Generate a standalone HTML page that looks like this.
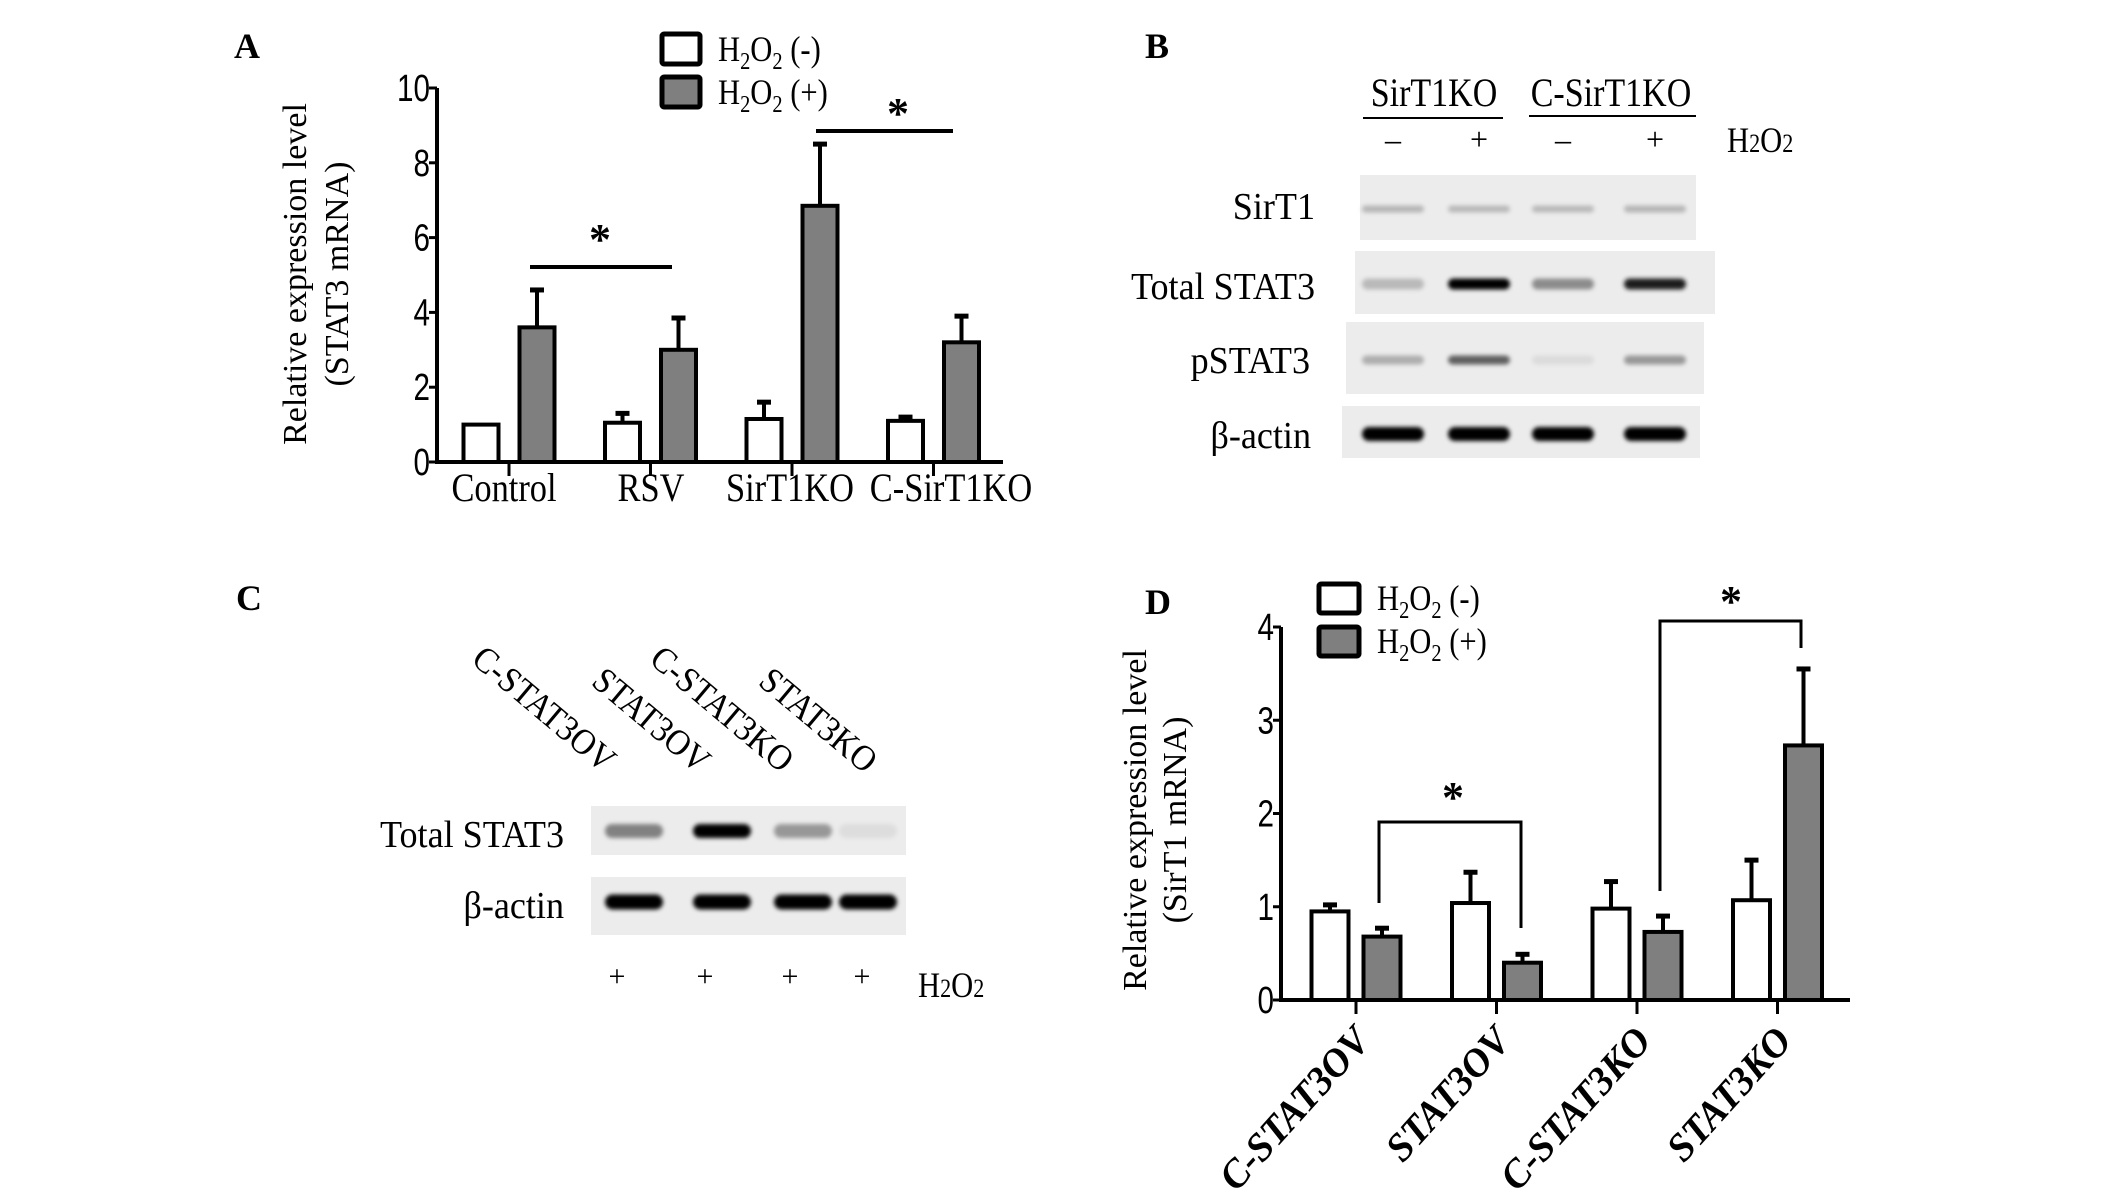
<!DOCTYPE html>
<html><head><meta charset="utf-8"><style>
html,body{margin:0;padding:0;background:#fff;}
svg{display:block;font-family:"Liberation Serif",serif;}
</style></head><body>
<svg id="fig" width="2126" height="1194" viewBox="0 0 2126 1194">
<defs>
<filter id="blur" x="-20%" y="-100%" width="140%" height="300%"><feGaussianBlur stdDeviation="2.2"/></filter>
</defs>
<g id="pa"></g>
<g id="pb"></g>
<g id="pc"></g>
<g id="pd"></g>
</svg>
<script>
// Panel A data
const aCats = ["Control","RSV","SirT1KO","C-SirT1KO"];
const aNeg = [1.0,1.05,1.15,1.1];
const aNegErr = [0.0,0.25,0.45,0.1];
const aPos = [3.6,3.0,6.85,3.2];
const aPosErr = [1.0,0.85,1.65,0.7];
const aTicks = [0,2,4,6,8,10];
// Panel D data
const dCats = ["C-STAT3OV","STAT3OV","C-STAT3KO","STAT3KO"];
const dNeg = [0.95,1.04,0.98,1.07];
const dNegErr = [0.07,0.33,0.29,0.43];
const dPos = [0.68,0.4,0.73,2.73];
const dPosErr = [0.09,0.09,0.17,0.82];
const dTicks = [0,1,2,3,4];
// Blot intensities (0..1)
const bLanes = ["SirT1KO -","SirT1KO +","C-SirT1KO -","C-SirT1KO +"];
const bSirT1 = [0.22,0.2,0.2,0.22];
const bStat3 = [0.2,1.0,0.4,0.9];
const bPStat3 = [0.25,0.6,0.05,0.35];
const bActin = [1,1,1,1];
const cStat3 = [0.45,1.0,0.35,0.04];
const cActin = [1,1,1,1];

const NS="http://www.w3.org/2000/svg";
function el(p,tag,at,txt){const e=document.createElementNS(NS,tag);for(const k in at)e.setAttribute(k,at[k]);if(txt!==undefined)e.textContent=txt;p.appendChild(e);return e;}

function barChart(g,o){
  const y=v=>o.y0-(v/o.max)*(o.y0-o.yTop);
  let e;
  e=el(g,'line',{x1:o.ax,y1:o.yTop,x2:o.ax,y2:o.y0+2,stroke:'#000','stroke-width':4});
  
  e=el(g,'line',{x1:o.ax-2,y1:o.y0,x2:o.axEnd,y2:o.y0,stroke:'#000','stroke-width':4});
  
  o.ticks.forEach(t=>{
    el(g,'line',{x1:o.ax-8,y1:y(t),x2:o.ax,y2:y(t),stroke:'#000','stroke-width':3});
    e=el(g,'text',{x:0,y:0,'text-anchor':'end','font-size':o.tickFs,'font-family':'Liberation Sans, sans-serif',transform:`translate(${o.ax-7},${y(t)+13}) scale(0.78,1)`},t);
    
  });
  o.cats.forEach((c,i)=>{
    const cx=o.cx0+i*o.step;
    el(g,'line',{x1:cx,y1:o.y0,x2:cx,y2:o.y0+14,stroke:'#000','stroke-width':3});
    [[o.neg,o.negErr,'#fff',cx-o.off-o.bw/2,'bar-neg'],[o.pos,o.posErr,'#7f7f7f',cx+o.off-o.bw/2,'bar-pos']].forEach(([vals,errs,fill,x,nm])=>{
      const v=vals[i],top=y(v),et=y(v+errs[i]);
      if(errs[i]>0){
        el(g,'line',{x1:x+o.bw/2,y1:top,x2:x+o.bw/2,y2:et,stroke:'#000','stroke-width':4});
        el(g,'line',{x1:x+o.bw/2-7,y1:et,x2:x+o.bw/2+7,y2:et,stroke:'#000','stroke-width':5});
      }
      const r=el(g,'rect',{x:x,y:top,width:o.bw,height:o.y0-top,fill:fill,stroke:'#000','stroke-width':4});
      
      
    });
  });
  return y;
}
function legend(g,x,y1,y2,w,h){
  let e=el(g,'rect',{x:x,y:y1,width:w,height:h,fill:'#fff',stroke:'#000','stroke-width':5,rx:2});
  
  e=el(g,'rect',{x:x,y:y2,width:w,height:h,fill:'#7f7f7f',stroke:'#000','stroke-width':5,rx:2});
  
  [[y1,'(-)'],[y2,'(+)']].forEach(([yy,s],k)=>{
    const t=el(g,'text',{x:0,y:0,'font-size':36,transform:`translate(${x+w+18},${yy+h-3}) scale(0.85,1)`});
    t.innerHTML=`H<tspan font-size="24" dy="8">2</tspan><tspan dy="-8">O</tspan><tspan font-size="24" dy="8">2</tspan><tspan dy="-8"> ${s}</tspan>`;
    
  });
}
function star(g,x,y){let e=el(g,'text',{x:x,y:y,'text-anchor':'middle','font-size':44,'font-weight':'bold'},'*');}
function label(g,x,y,txt,fs,name,extra){const a=Object.assign({x:x,y:y,'font-size':fs},extra||{});const e=el(g,'text',a,txt);return e;}
function clabel(g,x,y,txt,fs,name,anchor,sx,extra){const a=Object.assign({x:0,y:0,'font-size':fs,'text-anchor':anchor,transform:`translate(${x},${y}) scale(${sx},1)`},extra||{});const e=el(g,'text',a,txt);return e;}

// ---------- Panel A ----------
const A=document.getElementById('pa');
label(A,234,58,'A',36,'panel-label-a',{'font-weight':'bold'});
legend(A,662,34,77,38,30);
const yA=barChart(A,{cats:aCats,neg:aNeg,negErr:aNegErr,pos:aPos,posErr:aPosErr,ticks:aTicks,max:10,ax:437,axEnd:1003,y0:462,yTop:88,cx0:509,step:141.5,off:28,bw:35,tickFs:38});
const aLabX=[504,651,790,951];
aCats.forEach((c,i)=>{clabel(A,aLabX[i],501,c,40,'x-tick-label','middle',0.86);});
label(A,0,0,'Relative expression level',34,'y-axis-title',{'text-anchor':'middle',transform:'translate(306,274) rotate(-90)'});
label(A,0,0,'(STAT3 mRNA)',34,'y-axis-title-2',{'text-anchor':'middle',transform:'translate(348,274) rotate(-90)'});
el(A,'line',{x1:530,y1:267,x2:672,y2:267,stroke:'#000','stroke-width':4});
star(A,600,254);
el(A,'line',{x1:816,y1:131,x2:953,y2:131,stroke:'#000','stroke-width':4});
star(A,898,128);

// ---------- Blots helper ----------
function blot(g,name,box,lanes,vals,by,bw,bh){
  const r=el(g,'rect',{x:box[0],y:box[1],width:box[2],height:box[3],fill:'#ececec'});
  
  vals.forEach((v,i)=>{
    const c=Math.round(230-225*v);
    const b=el(g,'rect',{x:lanes[i]-bw/2,y:by-bh/2,width:bw,height:bh,rx:bh/2,fill:`rgb(${c},${c},${c})`,filter:'url(#blur)'});
    
  });
}
// ---------- Panel B ----------
const B=document.getElementById('pb');
label(B,1145,58,'B',36,'panel-label-b',{'font-weight':'bold'});
clabel(B,1434,106,'SirT1KO',40,'group-label-sirt1ko','middle',0.85);
clabel(B,1611,106,'C-SirT1KO',40,'group-label-c-sirt1ko','middle',0.85);
el(B,'line',{x1:1363,y1:118,x2:1503,y2:118,stroke:'#000','stroke-width':2});
el(B,'line',{x1:1529,y1:116,x2:1696,y2:116,stroke:'#000','stroke-width':2});
const bX=[1393,1479,1563,1655];
['–','+','–','+'].forEach((s,i)=>label(B,bX[i],150,s,32,'treatment-sign',{'text-anchor':'middle'}));
let hb=clabel(B,1727,152,'',36,'h2o2-label','start',0.85);hb.innerHTML='H<tspan font-size="26">2</tspan>O<tspan font-size="26">2</tspan>';
blot(B,'blot-sirt1',[1360,175,336,65],bX,bSirT1,209,62,7);
blot(B,'blot-total-stat3',[1355,251,360,63],bX,bStat3,284,62,11);
blot(B,'blot-pstat3',[1346,322,358,72],bX,bPStat3,360,62,9);
blot(B,'blot-actin',[1342,406,358,52],bX,bActin,434,62,14);
clabel(B,1315,219,'SirT1',38,'row-label-sirt1','end',0.95);
clabel(B,1315,299,'Total STAT3',38,'row-label-total-stat3','end',0.95);
clabel(B,1310,373,'pSTAT3',38,'row-label-pstat3','end',0.95);
clabel(B,1311,448,'β-actin',38,'row-label-actin','end',0.95);

// ---------- Panel C ----------
const C=document.getElementById('pc');
label(C,236,610,'C',36,'panel-label-c',{'font-weight':'bold'});
const cLab=[["C-STAT3OV",470,662],["STAT3OV",590,684],["C-STAT3KO",648,662],["STAT3KO",757,684]];
cLab.forEach(([t,x,y])=>label(C,0,0,t,36,'lane-label',{transform:`translate(${x},${y}) rotate(40) scale(0.92,1)`}));
const cX=[634,722,803,868];
blot(C,'blot-c-total-stat3',[591,806,315,49],cX,cStat3,831,58,14);
blot(C,'blot-c-actin',[591,877,315,58],cX,cActin,902,58,15);
clabel(C,564,847,'Total STAT3',38,'row-label-c-total-stat3','end',0.95);
clabel(C,564,918,'β-actin',38,'row-label-c-actin','end',0.95);
[617,705,790,862].forEach(x=>label(C,x,986,'+',30,'treatment-sign',{'text-anchor':'middle'}));
let hc=clabel(C,918,997,'',36,'h2o2-label-c','start',0.85);hc.innerHTML='H<tspan font-size="26">2</tspan>O<tspan font-size="26">2</tspan>';

// ---------- Panel D ----------
const D=document.getElementById('pd');
label(D,1145,614,'D',36,'panel-label-d',{'font-weight':'bold'});
legend(D,1319,584,627,40,29);
const yD=barChart(D,{cats:dCats,neg:dNeg,negErr:dNegErr,pos:dPos,posErr:dPosErr,ticks:dTicks,max:4,ax:1281,axEnd:1850,y0:1000,yTop:627,cx0:1356,step:140.5,off:26,bw:37,tickFs:38});
dCats.forEach((c,i)=>label(D,0,0,c,40,'x-tick-label',{'text-anchor':'end','font-weight':'bold','font-style':'italic',transform:`translate(${1372+i*140.5},${1042}) rotate(-48) scale(0.97,1)`}));
label(D,0,0,'Relative expression level',34,'y-axis-title',{'text-anchor':'middle',transform:'translate(1146,820) rotate(-90)'});
label(D,0,0,'(SirT1 mRNA)',34,'y-axis-title-2',{'text-anchor':'middle',transform:'translate(1186,820) rotate(-90)'});
el(D,'polyline',{points:`1379,903 1379,822 1521,822 1521,928`,fill:'none',stroke:'#000','stroke-width':3});
star(D,1453,812);
el(D,'polyline',{points:`1660,891 1660,621 1801,621 1801,648`,fill:'none',stroke:'#000','stroke-width':3});
star(D,1731,616);
</script>
</body></html>
